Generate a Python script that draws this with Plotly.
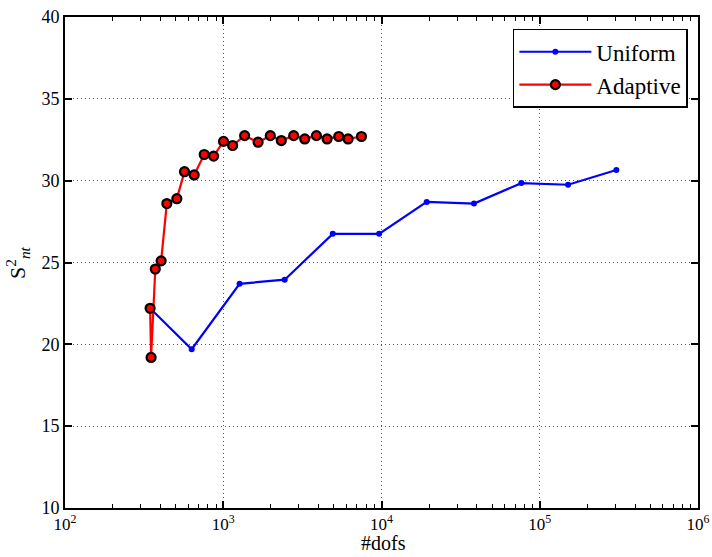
import plotly.graph_objects as go

# Uniform refinement
uniform_dofs = [345, 632, 1268, 2445, 4920, 9660, 19300, 38400, 76500, 151000, 305000]
uniform_s = [22.2, 19.7, 23.7, 23.95, 26.75, 26.75, 28.7, 28.6, 29.85, 29.75, 30.65]

# Adaptive refinement
adaptive_dofs = [345, 350, 372, 405, 440, 509, 569, 655, 758, 869, 1004, 1146, 1365,
                 1660, 1983, 2327, 2787, 3273, 3880, 4530, 5370, 6150, 7470]
adaptive_s = [22.2, 19.2, 24.6, 25.1, 28.6, 28.9, 30.55, 30.35, 31.6, 31.5, 32.4, 32.15,
              32.75, 32.35, 32.75, 32.45, 32.75, 32.55, 32.75, 32.55, 32.7, 32.55, 32.7]

y_ticks = [10, 15, 20, 25, 30, 35, 40]
x_tickvals = [1e2, 1e3, 1e4, 1e5, 1e6]
x_ticktext = ["10<sup>2</sup>", "10<sup>3</sup>", "10<sup>4</sup>", "10<sup>5</sup>", "10<sup>6</sup>"]

FONT = "Liberation Serif"

fig = go.Figure()
fig.add_trace(go.Scatter(
    x=uniform_dofs, y=uniform_s, mode="lines+markers", name="Uniform",
    line=dict(color="#0000ff", width=2.2),
    marker=dict(color="#0000ff", size=6, symbol="circle"),
))
fig.add_trace(go.Scatter(
    x=adaptive_dofs, y=adaptive_s, mode="lines+markers", name="Adaptive",
    line=dict(color="#ff0000", width=2.2),
    marker=dict(color="#ff0000", size=9, symbol="circle",
                line=dict(color="black", width=2.2)),
))

fig.update_layout(
    width=712, height=557,
    margin=dict(l=65, r=14, t=17, b=49),
    paper_bgcolor="white", plot_bgcolor="white",
    font=dict(family=FONT, size=18, color="black"),
    showlegend=True,
    legend=dict(
        x=0.984, y=0.976, xanchor="right", yanchor="top",
        bordercolor="black", borderwidth=1.5, bgcolor="white",
        font=dict(family=FONT, size=23),
        itemwidth=72, tracegroupgap=0,
        itemsizing="trace",
    ),
    annotations=[
        dict(text="#dofs", xref="paper", yref="paper", x=0.503, y=-0.0985,
             xanchor="center", yanchor="bottom", showarrow=False,
             font=dict(family=FONT, size=20)),
        dict(text="S<sup>2</sup><sub><i>nt</i></sub>", xref="paper", yref="paper",
             x=-0.075, y=0.5, xanchor="center", yanchor="middle", showarrow=False,
             textangle=-90, font=dict(family=FONT, size=22)),
    ],
)

fig.update_xaxes(
    type="log", range=[2, 6], automargin=False,
    tickvals=x_tickvals, ticktext=x_ticktext,
    showline=True, linecolor="black", linewidth=2, mirror="allticks",
    ticks="inside", ticklen=7, tickwidth=1.5, tickcolor="black",
    showgrid=True, gridcolor="#555555", gridwidth=0.8, griddash="1px,3px",
    zeroline=False,
    minor=dict(ticks="inside", ticklen=4, tickwidth=1, tickcolor="black",
               dtick="D1", showgrid=False),
    tickfont=dict(family=FONT, size=17),
)
fig.update_yaxes(
    range=[10, 40], tickvals=y_ticks, automargin=False,
    showline=True, linecolor="black", linewidth=2, mirror="allticks",
    ticks="inside", ticklen=7, tickwidth=1.5, tickcolor="black",
    showgrid=True, gridcolor="#555555", gridwidth=0.8, griddash="1px,3px",
    zeroline=False,
    tickfont=dict(family=FONT, size=18),
)

fig.write_html(
    "out.html",
    config={"displayModeBar": False},
    post_script="document.body.style.margin='0px';document.body.style.padding='0px';"
                "window.dispatchEvent(new Event('resize'));",
)
